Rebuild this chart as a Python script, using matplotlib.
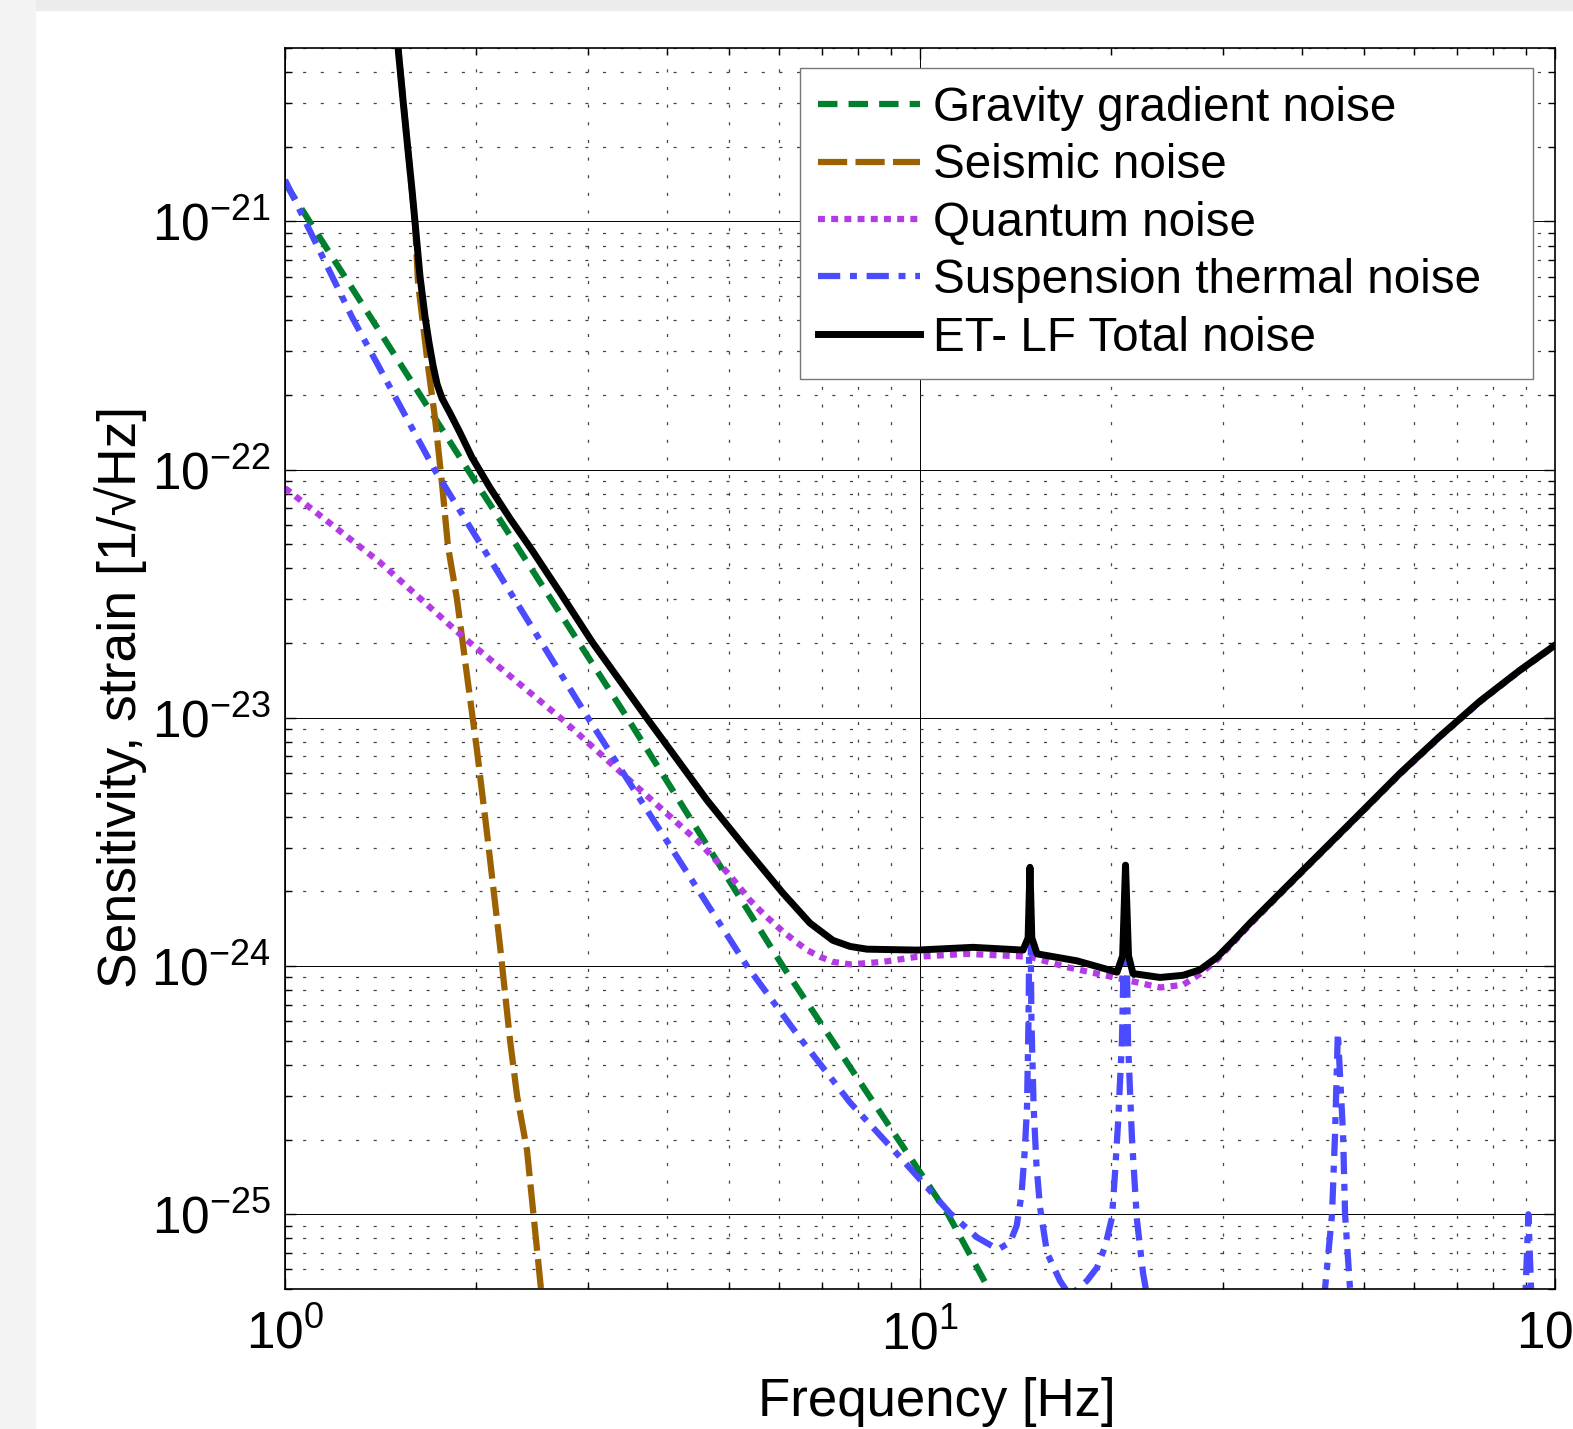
import numpy as np
import matplotlib
matplotlib.use('Agg')
import matplotlib.pyplot as plt
from matplotlib.patches import Rectangle

plt.rcParams['font.family'] = ['Liberation Sans', 'DejaVu Sans']
plt.rcParams['mathtext.fontset'] = 'custom'
plt.rcParams['mathtext.rm'] = 'Liberation Sans'
plt.rcParams['mathtext.it'] = 'Liberation Sans:italic'
plt.rcParams['lines.scale_dashes'] = False

#%% values (frequency in Hz, strain in 1/sqrt(Hz))
gg_f = [1.0, 1.94, 3.46, 6.08, 11.07, 13.0]
gg_h = [1.43e-21, 1.0e-22, 1.0e-23, 1.0e-24, 1.0e-25, 4.7e-26]

seis_f = [1.496, 1.507, 1.562, 1.602, 1.620, 1.680, 1.722, 1.767, 1.806, 1.866,
          1.942, 2.006, 2.080, 2.182, 2.262, 2.320, 2.405, 2.530, 2.56]
seis_h = [5.9e-21, 5.0e-21, 1.94e-21, 1.0e-21, 5.65e-22, 2.6e-22, 1.63e-22, 8.8e-23,
          4.9e-23, 3.0e-23, 1.38e-23, 7.4e-24, 3.44e-24, 1.19e-24, 5.0e-25, 3.0e-25,
          1.81e-25, 5.0e-26, 4.0e-26]

qn_f = [1.0, 1.41, 1.907, 2.74, 3.49, 4.50, 5.02, 5.40, 5.70, 6.08, 6.36, 6.64, 6.96,
        7.29, 7.76, 8.75, 9.89, 11.86, 14.90, 17.04, 20.65, 23.88, 25.96, 27.60, 29.36,
        31.11, 33.09, 39.68, 47.56, 57.0, 65.9, 76.19, 88.09, 100.0]
qn_h = [8.43e-23, 4.24e-23, 2.12e-23, 9.8e-24, 5.6e-24, 3.13e-24, 2.32e-24, 1.84e-24,
        1.60e-24, 1.38e-24, 1.26e-24, 1.16e-24, 1.09e-24, 1.04e-24, 1.016e-24, 1.04e-24,
        1.09e-24, 1.12e-24, 1.09e-24, 9.9e-25, 8.9e-25, 8.2e-25, 8.4e-25, 9.3e-25,
        1.06e-24, 1.24e-24, 1.47e-24, 2.35e-24, 3.73e-24, 5.93e-24, 8.38e-24, 1.16e-23,
        1.55e-23, 1.955e-23]

susp_f = [1.0, 1.275, 1.72, 3.0, 5.34, 6.47, 7.76, 9.30, 9.93, 11.15, 12.30, 13.27,
          13.86, 14.2, 14.45, 14.62, 14.74, 14.82, 14.90, 14.98, 15.10, 15.25, 15.45,
          15.85, 16.61, 17.22, 18.32, 19.0, 19.56, 20.06, 20.28, 20.50, 20.80, 21.07,
          21.26, 21.57, 21.96, 22.45, 22.78, 26.0, 35.0, 42.5, 43.43, 44.55, 45.04, 45.5,
          45.9, 46.37, 46.71, 47.56, 48.5, 60.0, 85.0, 89.9, 90.8, 91.7, 95.0, 100.0]
susp_h = [1.47e-21, 4.12e-22, 1.0e-22, 1.0e-23, 1.0e-24, 5.13e-25, 2.82e-25, 1.70e-25,
          1.41e-25, 1.01e-25, 8.07e-26, 7.22e-26, 7.71e-26, 9.0e-26, 1.2e-25, 1.8e-25,
          2.7e-25, 6.0e-25, 2.5e-24, 6.0e-25, 2.7e-25, 1.6e-25, 1.07e-25, 7.0e-26,
          5.4e-26, 4.7e-26, 5.4e-26, 6.1e-26, 7.4e-26, 9.7e-26, 1.46e-25, 2.3e-25,
          5.0e-25, 2.55e-24, 5.0e-25, 2.0e-25, 9.5e-26, 5.8e-26, 4.7e-26, 2.5e-26,
          1.5e-26, 3.0e-26, 5.0e-26, 1.0e-25, 2.1e-25, 5.4e-25, 3.5e-25, 2.1e-25,
          1.0e-25, 5.0e-26, 3.0e-26, 1.2e-26, 2.5e-26, 5.0e-26, 1.0e-25, 5.0e-26,
          2.5e-26, 1.5e-26]

tot_f = [1.496, 1.507, 1.534, 1.562, 1.585, 1.602, 1.632, 1.662, 1.686, 1.711, 1.736,
         1.767, 1.819, 1.886, 1.970, 2.103, 2.262, 2.449, 2.711, 3.055, 3.370, 3.715,
         4.143, 4.619, 5.302, 6.08, 6.71, 7.29, 7.76, 8.25, 9.89, 12.12, 14.53, 14.80,
         14.90, 15.00, 15.29, 17.67, 20.43, 20.85, 21.07, 21.30, 21.65, 23.88, 25.96,
         27.60, 29.36, 31.11, 33.09, 39.68, 47.56, 57.0, 65.9, 76.19, 88.09, 100.0]
tot_h = [5.92e-21, 5.0e-21, 3.09e-21, 1.94e-21, 1.34e-21, 1.0e-21, 5.97e-22, 4.12e-22,
         3.24e-22, 2.62e-22, 2.21e-22, 1.94e-22, 1.69e-22, 1.41e-22, 1.12e-22, 8.46e-23,
         6.35e-23, 4.74e-23, 3.20e-23, 2.0e-23, 1.41e-23, 9.97e-24, 6.82e-24, 4.66e-24,
         3.01e-24, 1.97e-24, 1.49e-24, 1.27e-24, 1.20e-24, 1.17e-24, 1.16e-24, 1.19e-24,
         1.16e-24, 1.3e-24, 2.5e-24, 1.3e-24, 1.12e-24, 1.05e-24, 9.45e-25, 1.1e-24,
         2.55e-24, 1.1e-24, 9.33e-25, 9.0e-25, 9.18e-25, 9.66e-25, 1.085e-24, 1.26e-24,
         1.49e-24, 2.37e-24, 3.76e-24, 5.98e-24, 8.44e-24, 1.168e-23, 1.557e-23,
         1.963e-23]

labels = ['Gravity gradient noise', 'Seismic noise', 'Quantum noise',
          'Suspension thermal noise', 'ET- LF Total noise']

#%%
fig = plt.figure(figsize=(15.73, 14.29), dpi=100)
# grey frame of the screenshot
fig.patches.append(Rectangle((0, 1 - 10/1429), 1, 10/1429, transform=fig.transFigure,
                             color='#ececec', zorder=-10))
fig.patches.append(Rectangle((0, 0), 35/1573, 1, transform=fig.transFigure,
                             color='#f3f3f3', zorder=-10))

ax = fig.add_axes([285/1573, 1 - 1289/1429, 1270/1573, 1241/1429])

lw = 4.5
ax.loglog(gg_f, gg_h, color='#00802f', lw=lw, ls=(0, (14, 8)), label=labels[0])
ax.loglog(seis_f, seis_h, color='#9c6100', lw=lw, ls=(0, (21, 6)), label=labels[1])
ax.loglog(qn_f, qn_h, color='#b23be6', lw=lw, ls=(0, (5, 4.5)), label=labels[2])
ax.loglog(susp_f, susp_h, color='#4a4aff', lw=lw, ls=(0, (16, 7, 5, 7)), label=labels[3])
ax.loglog(tot_f, tot_h, color='k', lw=5, label=labels[4])

ax.set_xlim(1, 100)
ax.set_ylim(5e-26, 5e-21)

ax.set_axisbelow(True)
ax.grid(which='major', color='k', lw=0.7, ls='-')
ax.grid(which='minor', color='#444444', lw=0.9, ls=(0, (2.2, 10.5)))
ax.tick_params(which='both', direction='in', top=True, right=True, width=1)
ax.tick_params(which='major', length=8, labelsize=37)
ax.tick_params(which='minor', length=5)
ax.tick_params(axis='x', pad=15)
ax.tick_params(axis='y', pad=10)
for s in ax.spines.values():
    s.set_linewidth(1.2)

ax.set_xlabel('Frequency [Hz]', fontsize=38)
ax.xaxis.set_label_coords(0.5134, -0.071)
ax.set_ylabel('Sensitivity, strain [1/\u221aHz]', fontsize=38.5)
ax.yaxis.set_label_coords(-0.1087, 0.477)

leg = ax.legend(loc='upper left', bbox_to_anchor=(0.4055, 0.5, 0.5772, 0.484),
                mode='expand', borderaxespad=0,
                fontsize=34.3, fancybox=False, edgecolor='#777777', framealpha=1,
                handlelength=2.13, handletextpad=0.28, labelspacing=0.26, borderpad=0.38)
leg.get_frame().set_linewidth(1.0)

fig.savefig('out.png', dpi=100)
